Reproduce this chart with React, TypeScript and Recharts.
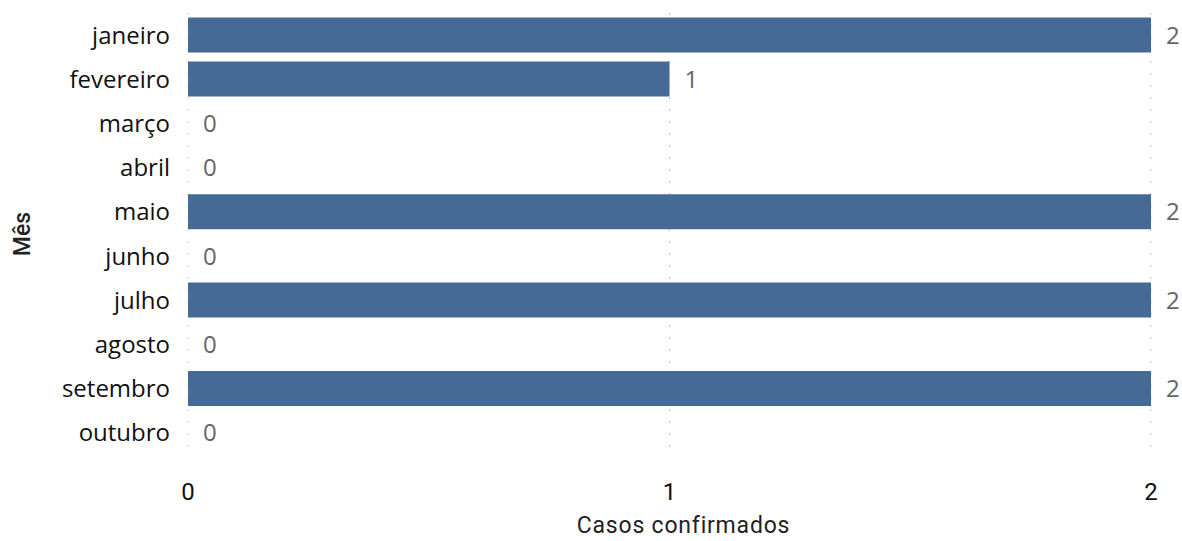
import React from 'react';
import { BarChart, Bar, XAxis, YAxis, CartesianGrid, LabelList } from 'recharts';

const months = ['janeiro', 'fevereiro', 'março', 'abril', 'maio', 'junho', 'julho', 'agosto', 'setembro', 'outubro'];
const cases = [2, 1, 0, 0, 2, 0, 2, 0, 2, 0];
const xTicks = [0, 1, 2];

const data = months.map((m, i) => ({ month: m, cases: cases[i] }));

// draw value labels ourselves so zero-width bars still get their "0"
const ValueLabel = (props: any) => {
  const { x, y, width, height, value } = props;
  const w = Number(width) < 1 ? 0 : Number(width);
  return (
    <text
      x={Number(x) + w + 15}
      y={Number(y) + Number(height) / 2}
      dy="0.36em"
      fill="#666"
      fontSize={24}
      fontFamily='"Open Sans"'
    >
      {value}
    </text>
  );
};

const App: React.FC = () => {
  return (
    <div style={{ position: 'absolute', left: 0, top: 0, width: 1182, height: 541, background: '#fff' }}>
      <BarChart
        width={1182}
        height={541}
        data={data}
        layout="vertical"
        margin={{ top: 13, right: 31, left: 0, bottom: 0 }}
        barCategoryGap="10%"
      >
        <CartesianGrid horizontal={false} stroke="#c8c8c8" strokeDasharray="2 10" />
        <XAxis
          type="number"
          domain={[0, 2]}
          ticks={xTicks}
          height={86}
          axisLine={false}
          tickLine={false}
          tickSize={0}
          tickMargin={28}
          tick={{ fill: '#111', fontSize: 24, fontFamily: 'Roboto' }}
          label={{ value: 'Casos confirmados', position: 'insideBottom', offset: 8, dx: 14, style: { fill: '#222', fontSize: 23, fontFamily: 'Roboto', letterSpacing: 0.8 } }}
        />
        <YAxis
          type="category"
          dataKey="month"
          width={188}
          axisLine={false}
          tickLine={false}
          tickSize={0}
          tickMargin={18}
          tick={{ fill: '#111', fontSize: 24, fontFamily: '"Open Sans"' }}
          label={{ value: 'Mês', angle: -90, position: 'insideLeft', offset: 22, style: { textAnchor: 'middle', fill: '#222', fontSize: 23, fontFamily: 'Roboto', fontWeight: 500 } }}
        />
        <Bar dataKey="cases" fill="#466A96" minPointSize={0.01} isAnimationActive={false}>
          <LabelList dataKey="cases" content={ValueLabel} />
        </Bar>
      </BarChart>
    </div>
  );
};

export default App;
